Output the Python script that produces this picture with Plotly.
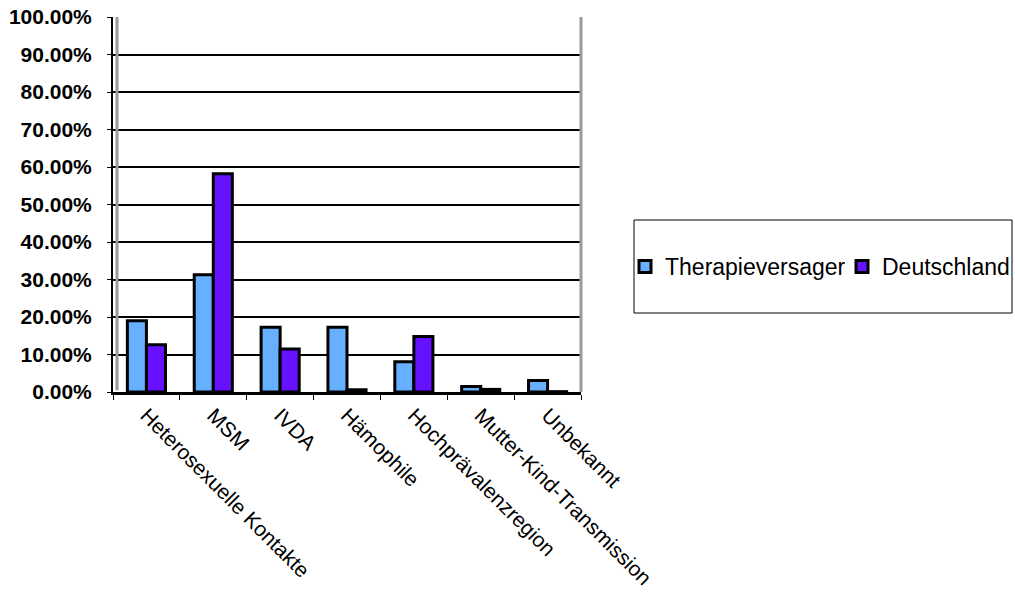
import plotly.graph_objects as go

categories = ["Heterosexuelle Kontakte", "MSM", "IVDA", "Hämophile",
              "Hochprävalenzregion", "Mutter-Kind-Transmission", "Unbekannt"]
therapieversager = [0.190, 0.313, 0.173, 0.173, 0.081, 0.015, 0.031]
deutschland = [0.126, 0.582, 0.115, 0.006, 0.148, 0.007, 0.001]
series_names = ["Therapieversager", "Deutschland"]
colors = ["#66B0FF", "#6611FF"]

FONT = "Liberation Sans, Arial, sans-serif"

fig = go.Figure()
for name, vals, col in zip(series_names, [therapieversager, deutschland], colors):
    fig.add_trace(go.Bar(x=categories, y=vals, name=name,
                         marker=dict(color=col, line=dict(color="black", width=3))))

W, H = 1015, 592
L, R, T, B = 113, 581, 17, 392

shapes = [
    # left wall (3D depth)
    dict(type="line", xref="paper", yref="paper", x0=4/(R-L), x1=4/(R-L), y0=0.005, y1=1.0,
         line=dict(color="#9a9a9a", width=3)),
    # right wall
    dict(type="line", xref="paper", yref="paper", x0=1.0, x1=1.0, y0=0, y1=1.0,
         line=dict(color="#9a9a9a", width=3)),
    # legend box
    dict(type="rect", xref="paper", yref="paper",
         x0=(634-L)/(R-L), x1=(1012-L)/(R-L), y0=(B-313)/(B-T), y1=(B-220)/(B-T),
         line=dict(color="black", width=1), fillcolor="rgba(0,0,0,0)"),
]

fig.update_layout(
    width=W, height=H,
    margin=dict(l=L, r=W-R, t=T, b=H-B, pad=0, autoexpand=False),
    paper_bgcolor="white", plot_bgcolor="white",
    font=dict(family=FONT, color="black"),
    barmode="group", bargap=0.43, bargroupgap=0,
    showlegend=True,
    legend=dict(orientation="h", xref="container", yref="container",
                x=625/W, xanchor="left", y=1-266.5/H, yanchor="middle",
                font=dict(size=23, family=FONT), bgcolor="rgba(0,0,0,0)",
                borderwidth=0, itemwidth=30, traceorder="normal", entrywidth=172),
    shapes=shapes,
    xaxis=dict(showline=True, linecolor="black", linewidth=3, tickson="boundaries",
               ticks="outside", ticklen=5, tickcolor="black", tickwidth=1,
               tickangle=45, tickfont=dict(size=21, family=FONT), showgrid=False,
               automargin=False),
    yaxis=dict(range=[0, 1.0], dtick=0.1, tickformat=".2%", showline=True,
               linecolor="black", linewidth=2, ticks="outside", ticklen=4,
               tickcolor="black", showgrid=True, gridcolor="black", gridwidth=2,
               zeroline=False, ticklabelstandoff=11, automargin=False,
               tickfont=dict(size=21, family=FONT, weight="bold")),
)

fig.write_html("out.html")
